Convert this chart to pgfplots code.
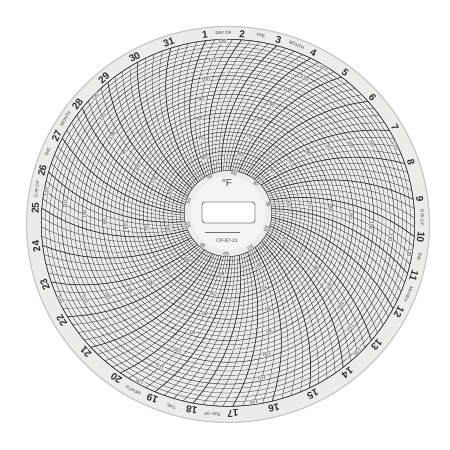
\documentclass[border=0pt]{standalone}
\usepackage{pgfplots}
\pgfplotsset{compat=1.18}
\usepackage{fontspec}
\setmainfont{Liberation Sans}

\definecolor{paper}{RGB}{237,236,232}
\definecolor{holec}{RGB}{245,245,243}
\definecolor{ink}{RGB}{58,58,58}
\definecolor{thin}{RGB}{128,128,128}

% chart plane: 50 F ring at r=43.5, 120 F ring at r=185 (pt)
% the photo is slightly tilted: (x,y) -> (1.008x, 0.989y)/(1+0.0002897y)
\def\Ri{43.5}
\def\Ro{185}
\def\Rd{191.5}
\def\St{2.0214}   % pt per degree F

\begin{document}
\begin{tikzpicture}[declare function={
    pa(\r)=\th-58.09+acos(\r/350);
    px(\r,\a)=1.008*\r*cos(\a)/(1+0.0002897*\r*sin(\a));
    py(\r,\a)=0.989*\r*sin(\a)/(1+0.0002897*\r*sin(\a));
  }]
\begin{axis}[x=1pt, y=1pt,
    xmin=-228, xmax=222, ymin=-237, ymax=213,
    hide axis, clip=false]
\pgfplotsextra{
  \fill[white] (-228,-237) rectangle (222,213);
  % a circle of the plane seen in the tilted view
  \def\ring##1{%
    \pgfmathsetmacro\rk{##1*0.0002897}%
    \pgfmathsetmacro\den{1-\rk*\rk}%
    \pgfmathsetmacro\yc{-##1*\rk*0.989/\den}%
    \pgfmathsetmacro\ax{1.008*##1/sqrt(\den)}%
    \pgfmathsetmacro\ay{0.989*##1/\den}%
  }
  % paper disc
  \ring{199.5}
  \fill[paper] (0,\yc) ellipse[x radius=\ax pt, y radius=\ay pt];
  \draw[black!22, line width=1.2pt] (0,\yc) ellipse[x radius=\ax pt, y radius=\ay pt];
  % temperature rings, every 2 F
  \foreach \t in {50,52,...,120}{
    \pgfmathsetmacro\rr{\Ri+\St*(\t-50)}
    \ring{\rr}
    \draw[thin, line width=0.22pt] (0,\yc) ellipse[x radius=\ax pt, y radius=\ay pt];
  }
  \foreach \t in {50,60,...,120}{
    \pgfmathsetmacro\rr{\Ri+\St*(\t-50)}
    \ring{\rr}
    \draw[ink!80, line width=0.42pt] (0,\yc) ellipse[x radius=\ax pt, y radius=\ay pt];
  }
  % time arcs, 4 per day
  \foreach \k in {0,...,123}{
    \pgfmathsetmacro\th{97.2-\k*2.903226}
    \draw[thin, line width=0.22pt] ({px(\Ri,pa(\Ri))},{py(\Ri,pa(\Ri))})
      \foreach \i in {1,...,12}{
        -- ({px(\Ri+11.7917*\i,pa(\Ri+11.7917*\i))},{py(\Ri+11.7917*\i,pa(\Ri+11.7917*\i))})};
  }
  \foreach \n in {1,...,31}{
    \pgfmathsetmacro\th{97.2-(\n-1)*11.612903}
    \draw[ink, line width=0.65pt] ({px(\Ri,pa(\Ri))},{py(\Ri,pa(\Ri))})
      \foreach \i in {1,...,12}{
        -- ({px(\Ri+11.7917*\i,pa(\Ri+11.7917*\i))},{py(\Ri+11.7917*\i,pa(\Ri+11.7917*\i))})};
    \pgfmathsetmacro\rot{\th-90}
    \node[font=\fontsize{10}{10}\selectfont\bfseries, text=black!82,
      rotate=\rot, inner sep=0pt] at ({px(\Rd,\th)},{py(\Rd,\th)}) {\n};
  }
  \ring{\Ro}
  \draw[ink, line width=0.55pt] (0,\yc) ellipse[x radius=\ax pt, y radius=\ay pt];
  % centre
  \ring{37}
  \fill[holec] (0,\yc) ellipse[x radius=\ax pt, y radius=\ay pt];
  \node[font=\fontsize{10}{10}\selectfont, text=black!75] at (-1,30) {°F};
  \draw[black!50, line width=0.9pt, fill=white, rounded corners=3pt]
    (-26,-10) rectangle (27,11);
  \draw[black!55, line width=0.5pt] (-23,-19) -- (12,-19);
  \node[font=\fontsize{5}{5}\selectfont, text=ink] at (-1,-28) {CP-87-21};
  % temperature labels along half-day arcs
  \foreach \j in {0,...,9}{
    \pgfmathsetmacro\th{97.2-(0.5+3*\j)*11.612903}
    \foreach \t in {50,60,...,120}{
      \pgfmathsetmacro\rr{\Ri+\St*(\t-50)-2.5}
      \pgfmathsetmacro\aa{pa(\rr)}
      \pgfmathsetmacro\rot{\aa-90}
      \node[font=\fontsize{5}{5}\selectfont, text=ink, fill=paper,
        inner sep=0.4pt, rotate=\rot] at ({px(\rr,\aa)},{py(\rr,\aa)}) {\t};
    }
  }
  % DAY OF THE MONTH
  \foreach \b in {0,8,16,24}{
    \foreach \o/\w in {0.5/DAY OF, 1.5/THE, 2.5/MONTH}{
      \pgfmathsetmacro\th{97.2-(\b+\o)*11.612903}
      \pgfmathsetmacro\rot{\th-90}
      \node[font=\fontsize{4.4}{4.4}\selectfont, text=ink, rotate=\rot,
        inner sep=0pt] at ({px(\Rd+1,\th)},{py(\Rd+1,\th)}) {\w};
    }
  }
}
\end{axis}
\end{tikzpicture}
\end{document}
